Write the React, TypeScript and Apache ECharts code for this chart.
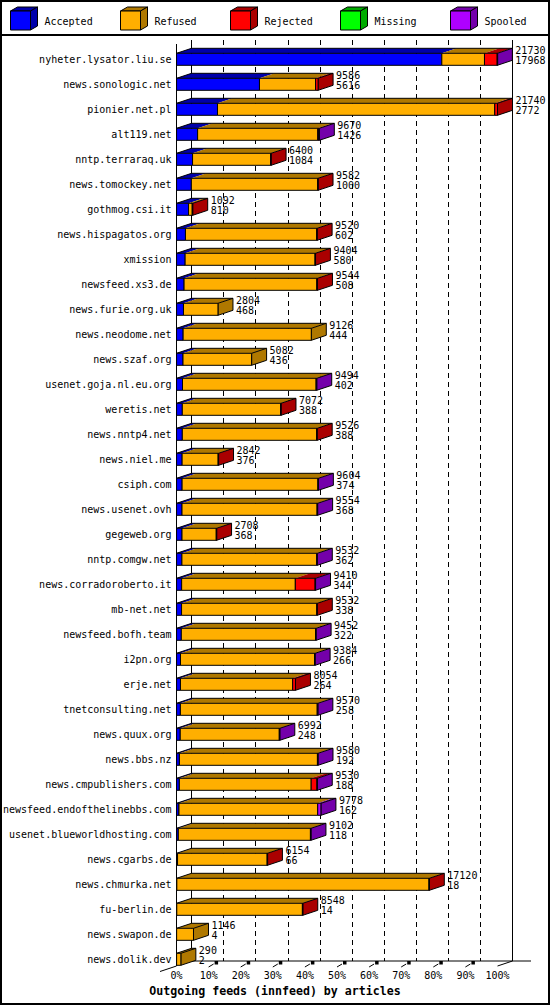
import React, { useEffect, useRef } from "react";
import * as echarts from "echarts";

const categories = [
  "nyheter.lysator.liu.se",
  "news.sonologic.net",
  "pionier.net.pl",
  "alt119.net",
  "nntp.terraraq.uk",
  "news.tomockey.net",
  "gothmog.csi.it",
  "news.hispagatos.org",
  "xmission",
  "newsfeed.xs3.de",
  "news.furie.org.uk",
  "news.neodome.net",
  "news.szaf.org",
  "usenet.goja.nl.eu.org",
  "weretis.net",
  "news.nntp4.net",
  "news.niel.me",
  "csiph.com",
  "news.usenet.ovh",
  "gegeweb.org",
  "nntp.comgw.net",
  "news.corradoroberto.it",
  "mb-net.net",
  "newsfeed.bofh.team",
  "i2pn.org",
  "erje.net",
  "tnetconsulting.net",
  "news.quux.org",
  "news.bbs.nz",
  "news.cmpublishers.com",
  "newsfeed.endofthelinebbs.com",
  "usenet.blueworldhosting.com",
  "news.cgarbs.de",
  "news.chmurka.net",
  "fu-berlin.de",
  "news.swapon.de",
  "news.dolik.dev",
];

const totals = [
  21730, 9586, 21740, 9670, 6400, 9582, 1092, 9520, 9404, 9544, 2804, 9126, 5082,
  9494, 7072, 9526, 2842, 9604, 9554, 2708, 9532, 9410, 9532, 9452, 9384, 8054,
  9570, 6992, 9580, 9530, 9778, 9102, 6154, 17120, 8548, 1146, 290,
];

const accepted = [
  17968, 5616, 2772, 1426, 1084, 1000, 810, 602, 580, 508, 468, 444, 436, 402, 388,
  388, 376, 374, 368, 368, 362, 344, 338, 322, 266, 264, 258, 248, 192, 188, 162,
  118, 66, 18, 14, 4, 2,
];

const refused = [
  2890, 3800, 18780, 8140, 5290, 8560, 250, 8890, 8800, 8990, 2336, 8682, 4646,
  9050, 6660, 9100, 2440, 9200, 9150, 2320, 9130, 7700, 9160, 9090, 9080, 7600,
  9270, 6710, 9350, 8930, 9400, 8950, 6070, 17080, 8510, 1142, 288,
];

const rejected = [
  860, 170, 188, 60, 26, 22, 32, 28, 24, 46, 0, 0, 0, 0, 24, 38, 26, 0, 0, 20, 0,
  1340, 34, 0, 0, 190, 0, 0, 0, 390, 0, 0, 18, 22, 24, 0, 0,
];

const missing = [
  0, 0, 0, 0, 0, 0, 0, 0, 0, 0, 0, 0, 0, 0, 0, 0, 0, 0, 0, 0, 0, 0, 0, 0, 0, 0, 0,
  0, 0, 0, 0, 0, 0, 0, 0, 0, 0,
];

const spooled = [
  12, 0, 0, 44, 0, 0, 0, 0, 0, 0, 0, 0, 0, 42, 0, 0, 0, 30, 36, 0, 40, 26, 0, 40,
  38, 0, 42, 34, 38, 22, 216, 34, 0, 0, 0, 0, 0,
];

const seriesNames = ["Accepted", "Refused", "Rejected", "Missing", "Spooled"];
const frontColors = ["#0000FF", "#FFAF00", "#FF0000", "#00FF00", "#AF00FF"];
const darkColors = ["#0000AA", "#AF7800", "#AA0000", "#00AA00", "#7400AA"];
const percentTicks = [0, 10, 20, 30, 40, 50, 60, 70, 80, 90, 100];
const titleText = "Outgoing feeds (innfeed) by articles";

const FONT = '"DejaVu Sans Mono", "Liberation Mono", monospace';

// layout
const FRONT_LEFT = 176.5;
const FRONT_W = 321;
const GRID_TOP = 46.8;
const ROW_H = 25;
const DX = 15;
const DY = 5;
const HALF = 6;
const FLOOR_FRONT_Y = 966;
const FLOOR_BACK_Y = 961;

export default function App() {
  const ref = useRef<HTMLDivElement>(null);

  useEffect(() => {
    document.body.style.margin = "0";
    if (!ref.current) return;
    const chart = echarts.init(ref.current, undefined, { renderer: "svg" });
    const maxTotal = Math.max(...totals);

    const data = categories.map((_, i) => [
      i,
      accepted[i],
      refused[i],
      rejected[i],
      missing[i],
      spooled[i],
      totals[i],
    ]);

    const renderItem = (params: any, api: any) => {
      const idx = api.value(0);
      const vals = [api.value(1), api.value(2), api.value(3), api.value(4), api.value(5)];
      const total = api.value(6);
      const acc = api.value(1);
      const base = api.coord([0, idx]);
      const xs = base[0];
      const yc = base[1];
      const top = yc - HALF;
      const bot = yc + HALF;
      const tops: any[] = [];
      const fronts: any[] = [];
      let cum = 0;
      let last = 0;
      let xe = xs;
      vals.forEach((v: number, k: number) => {
        if (!(v > 0)) return;
        const x0 = api.coord([cum, idx])[0];
        cum += v;
        const x1 = api.coord([cum, idx])[0];
        tops.push({
          type: "polygon",
          shape: { points: [[x0, top], [x0 + DX, top - DY], [x1 + DX, top - DY], [x1, top]] },
          style: { fill: darkColors[k], stroke: null },
        });
        fronts.push({
          type: "rect",
          shape: { x: x0, y: top, width: Math.max(x1 - x0, 0.5), height: bot - top },
          style: { fill: frontColors[k], stroke: "#000", lineWidth: 1 },
        });
        last = k;
        xe = x1;
      });
      const children: any[] = [
        ...tops,
        {
          type: "polygon",
          shape: { points: [[xe, top], [xe + DX, top - DY], [xe + DX, bot - DY], [xe, bot]] },
          style: { fill: darkColors[last], stroke: "#000", lineWidth: 1 },
        },
        {
          type: "polyline",
          shape: { points: [[xs, top], [xs + DX, top - DY], [xe + DX, top - DY]] },
          style: { fill: null, stroke: "#000", lineWidth: 1 },
        },
        ...fronts,
        {
          type: "text",
          style: {
            text: String(total),
            x: xe + DX + 3,
            y: yc - 9,
            fill: "#000",
            font: `10px ${FONT}`,
            align: "left",
            verticalAlign: "middle",
          },
        },
        {
          type: "text",
          style: {
            text: String(acc),
            x: xe + DX + 3,
            y: yc + 1,
            fill: "#000",
            font: `10px ${FONT}`,
            align: "left",
            verticalAlign: "middle",
          },
        },
      ];
      return { type: "group", children };
    };

    const graphics: any[] = [];
    // outer border & legend separator
    graphics.push({
      type: "rect",
      shape: { x: 1, y: 1, width: 548, height: 1003 },
      style: { fill: null, stroke: "#000", lineWidth: 2 },
    });
    graphics.push({
      type: "line",
      shape: { x1: 0, y1: 35, x2: 550, y2: 35 },
      style: { stroke: "#000", lineWidth: 2 },
    });
    // legend cubes
    seriesNames.forEach((name, i) => {
      const x = 10.5 + 110 * i;
      const y = 11;
      graphics.push({
        type: "polygon",
        shape: { points: [[x, y], [x + 7, y - 4], [x + 27, y - 4], [x + 20, y]] },
        style: { fill: darkColors[i], stroke: "#000", lineWidth: 1 },
      });
      graphics.push({
        type: "polygon",
        shape: { points: [[x + 20, y], [x + 27, y - 4], [x + 27, y + 15], [x + 20, y + 19]] },
        style: { fill: darkColors[i], stroke: "#000", lineWidth: 1 },
      });
      graphics.push({
        type: "rect",
        shape: { x, y, width: 20, height: 19 },
        style: { fill: frontColors[i], stroke: "#000", lineWidth: 1 },
      });
      graphics.push({
        type: "text",
        style: {
          text: name,
          x: 44.5 + 110 * i,
          y: 21,
          fill: "#000",
          font: `10px ${FONT}`,
          align: "left",
          verticalAlign: "middle",
        },
      });
    });
    // 3D frame
    const backLeft = FRONT_LEFT + DX;
    const backRight = FRONT_LEFT + FRONT_W + DX;
    const lines: number[][] = [
      [FRONT_LEFT, 44, FRONT_LEFT, FLOOR_FRONT_Y],
      [backLeft, 40, backLeft, FLOOR_BACK_Y],
      [backRight, 40, backRight, FLOOR_BACK_Y],
      [FRONT_LEFT, FLOOR_BACK_Y, 531, FLOOR_BACK_Y],
      [160, 971.5, FRONT_LEFT, FLOOR_FRONT_Y],
      [FRONT_LEFT + FRONT_W, FLOOR_FRONT_Y, backRight, FLOOR_BACK_Y],
    ];
    lines.forEach(([x1, y1, x2, y2]) =>
      graphics.push({
        type: "line",
        shape: { x1, y1, x2, y2 },
        style: { stroke: "#000", lineWidth: 1 },
      })
    );
    percentTicks.slice(1, 10).forEach((p) => {
      const xf = FRONT_LEFT + (FRONT_W * p) / 100;
      graphics.push({
        type: "line",
        shape: { x1: xf, y1: 967, x2: xf + 5, y2: 964 },
        style: { stroke: "#000", lineWidth: 1 },
      });
      graphics.push({
        type: "rect",
        shape: { x: xf + 6, y: 961, width: 3.5, height: 3.5 },
        style: { fill: "#000" },
      });
    });

    chart.setOption({
      animation: false,
      backgroundColor: "#fff",
      title: {
        text: titleText,
        left: "center",
        top: 985,
        padding: 0,
        textStyle: { fontFamily: FONT, fontSize: 11.6, fontWeight: "bold", color: "#000" },
      },
      grid: [
        { left: FRONT_LEFT, top: GRID_TOP, width: FRONT_W, height: ROW_H * categories.length },
        { left: FRONT_LEFT + DX, top: 40, width: FRONT_W, height: FLOOR_BACK_Y - 40 },
      ],
      xAxis: [
        {
          type: "value",
          gridIndex: 0,
          min: 0,
          max: maxTotal,
          interval: maxTotal / 10,
          axisLine: { show: false },
          axisTick: { show: false },
          splitLine: { show: false },
          axisLabel: {
            interval: 0,
            margin: -1,
            color: "#000",
            fontFamily: FONT,
            fontSize: 10,
            formatter: (v: number) => Math.round((v / maxTotal) * 100) + "%",
          },
        },
        {
          type: "value",
          gridIndex: 1,
          min: 0,
          max: 100,
          interval: 10,
          axisLine: { show: false },
          axisTick: { show: false },
          axisLabel: { show: false },
          splitLine: {
            show: true,
            showMinLine: false,
            showMaxLine: false,
            lineStyle: { color: "#000", width: 1, type: [5, 4] },
          },
        },
      ],
      yAxis: [
        {
          type: "category",
          gridIndex: 0,
          data: categories,
          inverse: true,
          axisLine: { show: false },
          axisTick: { show: false },
          splitLine: { show: false },
          axisLabel: {
            interval: 0,
            margin: 5,
            color: "#000",
            fontFamily: FONT,
            fontSize: 10,
          },
        },
        {
          type: "value",
          gridIndex: 1,
          show: false,
          splitLine: { show: false },
        },
      ],
      graphic: graphics,
      series: [
        {
          type: "custom",
          name: "feeds",
          xAxisIndex: 0,
          yAxisIndex: 0,
          renderItem,
          encode: { x: 6, y: 0 },
          data,
          clip: false,
          z: 3,
        },
      ],
    });

    return () => chart.dispose();
  }, []);

  return <div ref={ref} style={{ width: 550, height: 1005 }} />;
}
